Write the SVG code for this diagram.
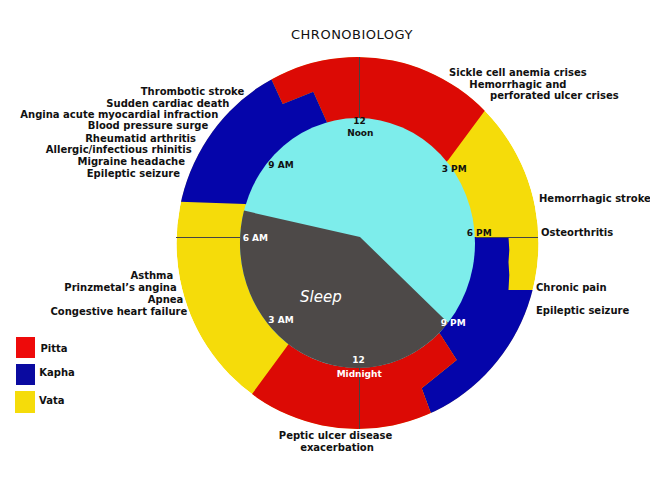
<svg xmlns="http://www.w3.org/2000/svg" width="650" height="500" viewBox="0 0 650 500">
<defs>
<clipPath id="outerClip"><ellipse cx="357.5" cy="243" rx="181" ry="186"/></clipPath>
<style>
.lbl{font-family:"DejaVu Sans","Liberation Sans",sans-serif;font-weight:bold;font-size:10px;fill:#111}
.tm{font-family:"DejaVu Sans","Liberation Sans",sans-serif;font-weight:bold;font-size:9px}
.blk{fill:#111}
.wht{fill:#fff}
.pitta{fill:#DC0A05}
.kapha{fill:#0505AA}
.vata{fill:#F5DC0A}
.tick{stroke:#444;stroke-width:1;fill:none}
</style>
</defs>
<rect width="650" height="500" fill="#fff"/>
<text x="352" y="39" text-anchor="middle" font-family="DejaVu Sans, Liberation Sans, sans-serif" font-size="13" letter-spacing="0.5" fill="#111">CHRONOBIOLOGY</text>

<g id="ring">
<g clip-path="url(#outerClip)">
<ellipse id="vata-base" class="vata" cx="357.5" cy="243" rx="181" ry="186"/>
<polygon id="pitta-day" class="pitta" points="357.5,243 326.7,121.7 313.3,91.7 282.7,104 271.7,80 255,44 360,20 520,63 484,111.7 448.3,160"/>
<polygon id="kapha-morning" class="kapha" points="357.5,243 245,204 180,201.7 130,200 120,30 255,44 271.7,80 282.7,104 313.3,91.7 326.7,121.7"/>
<polygon id="kapha-evening" class="kapha" points="357.5,243 474.9,237 508.5,237 509.3,250 508.5,262 509.3,275 508.5,290 600,290 600,480 445,480 440,438 430.7,412.7 421.7,388.3 456.7,360 440.7,335"/>
<polygon id="pitta-night" class="pitta" points="357.5,243 440.7,335 456.7,360 421.7,388.3 430.7,412.7 440,438 445,480 230,480 228,427 251.7,394.5 286.7,346.7"/>
</g>
</g>

<g id="clock">
<ellipse id="day" cx="357.5" cy="243" rx="117.5" ry="125" fill="#7DEDEB"/>
<path id="sleep" d="M360,237 L244,210.6 A117.5,125 0 0 0 448,322.7 Z" fill="#4D4948"/>
<text x="300" y="302.3" font-family="DejaVu Sans, Liberation Sans, sans-serif" font-style="italic" font-size="15" fill="#fff">Sleep</text>
</g>

<g id="connectors">
<line class="tick" x1="359.5" y1="57" x2="359.5" y2="118"/>
<line class="tick" x1="359.5" y1="368" x2="359.5" y2="429"/>
<line class="tick" x1="176" y1="237.5" x2="240" y2="237.5"/>
<line class="tick" x1="476" y1="237.5" x2="538" y2="237.5"/>
</g>

<g id="times">
<text class="tm blk" x="359.5" y="124.3" text-anchor="middle">12</text>
<text class="tm blk" x="360.3" y="136" text-anchor="middle">Noon</text>
<text class="tm blk" x="268.3" y="167.7">9 AM</text>
<text class="tm blk" x="441.7" y="172.3">3 PM</text>
<text class="tm blk" x="466.7" y="236">6 PM</text>
<text class="tm wht" x="242.7" y="241">6 AM</text>
<text class="tm wht" x="268.3" y="323.3">3 AM</text>
<text class="tm wht" x="440.7" y="326">9 PM</text>
<text class="tm wht" x="358.5" y="363.3" text-anchor="middle">12</text>
<text class="tm wht" x="359.2" y="376.7" text-anchor="middle">Midnight</text>
</g>

<g id="labels-morning" text-anchor="end">
<text class="lbl" x="244.3" y="95">Thrombotic stroke</text>
<text class="lbl" x="229.3" y="106.7">Sudden cardiac death</text>
<text class="lbl" x="218.3" y="117.6">Angina acute myocardial infraction</text>
<text class="lbl" x="208.3" y="129.4">Blood pressure surge</text>
<text class="lbl" x="196" y="141.5">Rheumatid arthritis</text>
<text class="lbl" x="191.7" y="153.3">Allergic/infectious rhinitis</text>
<text class="lbl" x="185" y="165">Migraine headache</text>
<text class="lbl" x="180" y="177.3">Epileptic seizure</text>
</g>

<g id="labels-afternoon">
<text class="lbl" x="449" y="75.7">Sickle cell anemia crises</text>
<text class="lbl" x="469.3" y="87.7">Hemorrhagic and</text>
<text class="lbl" x="490" y="99.3">perforated ulcer crises</text>
<text class="lbl" x="539" y="201.7">Hemorrhagic stroke</text>
<text class="lbl" x="541" y="235.7">Osteorthritis</text>
<text class="lbl" x="536" y="291">Chronic pain</text>
<text class="lbl" x="536" y="314.3">Epileptic seizure</text>
</g>

<g id="labels-night" text-anchor="end">
<text class="lbl" x="173.3" y="279">Asthma</text>
<text class="lbl" x="176.7" y="291">Prinzmetal’s angina</text>
<text class="lbl" x="183.3" y="302.7">Apnea</text>
<text class="lbl" x="187.3" y="314.7">Congestive heart failure</text>
</g>

<g id="labels-midnight" text-anchor="middle">
<text class="lbl" x="335.5" y="439.3">Peptic ulcer disease</text>
<text class="lbl" x="337" y="451">exacerbation</text>
</g>

<g id="legend">
<g id="legend-pitta"><rect x="16" y="337" width="19" height="21" fill="#EE0A0A"/><text class="lbl" x="40.5" y="351.7">Pitta</text></g>
<g id="legend-kapha"><rect x="16" y="364" width="19" height="21" fill="#0A0AA0"/><text class="lbl" x="39.3" y="376">Kapha</text></g>
<g id="legend-vata"><rect x="15" y="391" width="20" height="22" fill="#F5DC0A"/><text class="lbl" x="39" y="404">Vata</text></g>
</g>
</svg>
